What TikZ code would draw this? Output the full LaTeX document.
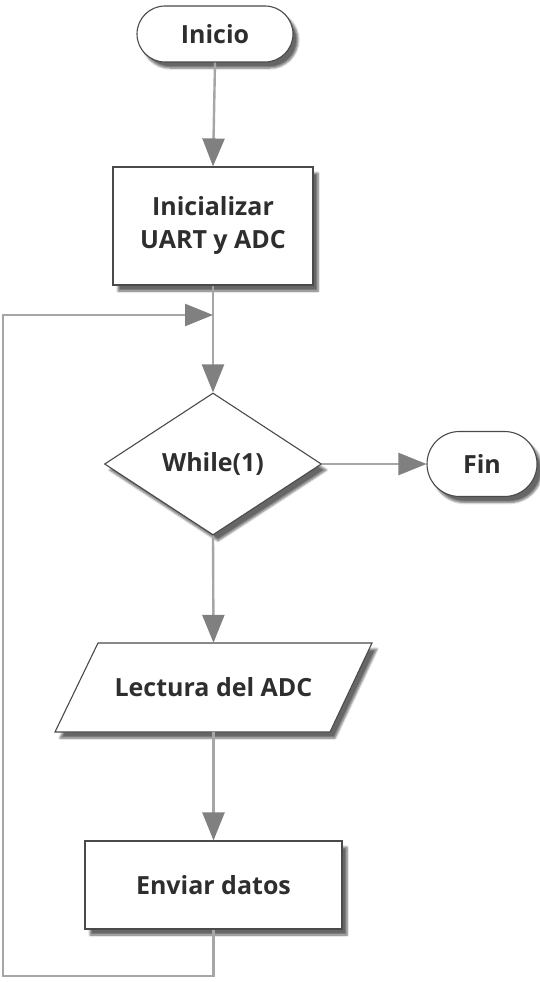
\documentclass[tikz,border=0pt]{standalone}
\usepackage{fontspec}
\setmainfont{Open Sans}
\usetikzlibrary{arrows.meta,shapes.geometric,shapes.misc,shadows.blur,calc}
\definecolor{linec}{HTML}{A6A6A6}
\definecolor{tipc}{HTML}{808080}
\definecolor{edgec}{HTML}{4A4A4A}
\definecolor{txtc}{HTML}{2E2E2E}
\tikzset{
  txt/.style={font=\bfseries\fontsize{25}{33}\selectfont, text=txtc, align=center, inner sep=0pt},
  shp/.style={txt, draw=edgec, line width=1.1pt, fill=white,
    blur shadow={shadow xshift=5pt, shadow yshift=-6pt, shadow blur steps=6, shadow opacity=60}},
  term/.style={shp, rounded rectangle},
  procbox/.style={shp, rectangle},
  decis/.style={shp, diamond},
  conn/.style={draw=linec, line width=2.4pt},
  arr/.style={conn, -{Triangle[length=28pt,width=22pt,color=tipc]}},
}
\begin{document}
\begin{tikzpicture}[x=1pt,y=-1pt]
\useasboundingbox (0,0) rectangle (539,982);
% nodes
\node[term, minimum width=156pt, minimum height=56pt] (ini) at (215,34) {Inicio};
\node[procbox, minimum width=200pt, minimum height=118pt] (uart) at (213,226) {Inicializar\\UART y ADC};
\coordinate (j) at (213,315);
\node[decis, minimum width=217pt, minimum height=142pt] (wh) at (213,464) {While(1)};
\node[term, minimum width=110pt, minimum height=65pt] (fin) at (482,464) {Fin};
% parallelogram
\path[shp] (55,732) -- (98,643) -- (372,643) -- (330,732) -- cycle;
\node[txt, minimum width=232pt, minimum height=89pt] (lec) at (213.5,687.5) {Lectura del ADC};
\node[procbox, minimum width=257pt, minimum height=88pt] (env) at (213.5,885) {Enviar datos};
% connectors
\draw[arr] (ini.south) -- (uart.north);
\draw[arr] (uart.south) -- (wh.north);
\draw[arr] (wh.east) -- (fin.west);
\draw[arr] (wh.south) -- (lec.north);
\draw[arr] (lec.south) -- (env.north);
\draw[arr] (env.south) -- (env.south |- 0,976) -- (3,976) -- (3,315) -- (j);
\end{tikzpicture}
\end{document}
